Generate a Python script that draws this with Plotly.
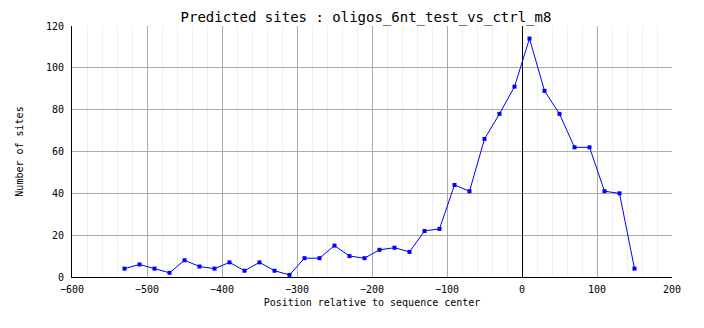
import plotly.graph_objects as go

positions = list(range(-530, 151, 20))
sites = [4, 6, 4, 2, 8, 5, 4, 7, 3, 7, 3, 1,
         9, 9, 15, 10, 9, 13, 14, 12, 22, 23, 44, 41, 66, 78, 91, 114,
         89, 78, 62, 62, 41, 40, 4]

title_text = "Predicted sites : oligos_6nt_test_vs_ctrl_m8"
x_title = "Position relative to sequence center"
y_title = "Number of sites"

FONT = "DejaVu Sans Mono"

fig = go.Figure()
fig.add_trace(go.Scatter(
    x=positions, y=sites, mode="lines+markers",
    line=dict(color="#0000ff", width=1),
    marker=dict(symbol="square", size=4, color="#0000ff"),
    showlegend=False, hoverinfo="x+y",
))

fig.update_layout(
    width=704, height=328,
    margin=dict(l=72, r=32, t=26, b=51),
    paper_bgcolor="white", plot_bgcolor="white",
    font=dict(family=FONT, size=10, color="black"),
    title=dict(text=title_text, x=366/704, xanchor="center", y=1 - 17/328, yanchor="middle",
               font=dict(family=FONT, size=14, color="black")),
)
fig.update_xaxes(
    range=[-600, 200], dtick=100, tick0=-600,
    showgrid=True, gridcolor="#aaaaaa", gridwidth=1,
    minor=dict(dtick=20, showgrid=True, gridcolor="#efefef", gridwidth=1),
    zeroline=True, zerolinecolor="black", zerolinewidth=1,
    showline=True, linecolor="black", linewidth=1,
    ticks="", ticklabelstandoff=3,
    title=dict(text=x_title, standoff=4, font=dict(family=FONT, size=10)),
    tickfont=dict(family=FONT, size=10),
)
fig.update_yaxes(
    range=[0, 120], dtick=20,
    showgrid=True, gridcolor="#aaaaaa", gridwidth=1,
    zeroline=False,
    showline=True, linecolor="black", linewidth=1,
    ticks="", ticklabelstandoff=5,
    title=dict(text=y_title, standoff=20, font=dict(family=FONT, size=10)),
    tickfont=dict(family=FONT, size=10),
)

fig.write_html("out.html")
